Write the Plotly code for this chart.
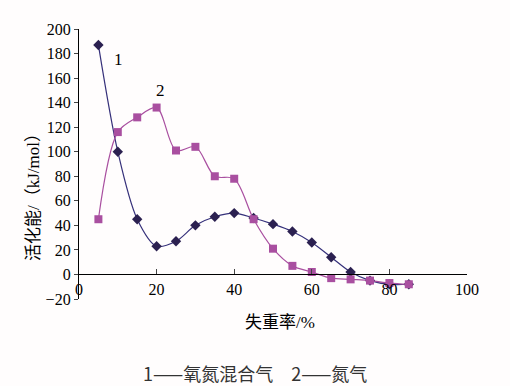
import plotly.graph_objects as go

x_vals = [5, 10, 15, 20, 25, 30, 35, 40, 45, 50, 55, 60, 65, 70, 75, 80, 85]
s1_vals = [187, 100, 45, 23, 27, 40, 47, 50, 46, 41, 35, 26, 14, 2, -5, -8, -8]
s2_vals = [45, 116, 128, 136, 101, 104, 80, 78, 45, 21, 7, 2, -3, -4, -5, -7, -8]
y_ticks = list(range(-20, 201, 20))
x_ticks = list(range(0, 101, 20))

serif = "Liberation Serif"
cjk = "Noto Sans CJK SC"

fig = go.Figure()
fig.add_trace(go.Scatter(
    x=x_vals, y=s1_vals, mode="lines+markers", name="1",
    line=dict(color="#35307a", width=1.2, shape="spline", smoothing=0.9),
    marker=dict(symbol="diamond", size=8, color="#2b2050"),
))
fig.add_trace(go.Scatter(
    x=x_vals, y=s2_vals, mode="lines+markers", name="2",
    line=dict(color="#a94fa0", width=1.2, shape="spline", smoothing=0.9),
    marker=dict(symbol="square", size=8, color="#a94fa0"),
))

ymin, ymax = -20, 200
fig.update_layout(
    width=510, height=386,
    margin=dict(l=79, r=43, t=29, b=87),
    paper_bgcolor="#fffdfd", plot_bgcolor="#fffdfd",
    showlegend=False,
    xaxis=dict(
        range=[0, 100], tickvals=x_ticks, ticks="inside", ticklen=5,
        showline=True, linecolor="black", linewidth=1.3,
        showgrid=False, zeroline=False,
        anchor="free", position=(0 - ymin) / (ymax - ymin),
        tickfont=dict(family=serif, size=16, color="black"),
    ),
    yaxis=dict(
        range=[ymin, ymax], tickvals=y_ticks, ticks="outside", ticklen=4,
        showline=True, linecolor="black", linewidth=1.3,
        showgrid=False, zeroline=False,
        tickfont=dict(family=serif, size=16, color="black"),
    ),
)

fig.add_annotation(x=10.2, y=175, text="1", showarrow=False,
                   font=dict(family=serif, size=17, color="black"))
fig.add_annotation(x=21, y=150, text="2", showarrow=False,
                   font=dict(family=serif, size=17, color="black"))
fig.add_annotation(xref="paper", yref="paper", x=(280 - 79) / 388, y=(386 - 87 - 322) / 270,
                   text="失重率/%", showarrow=False, xanchor="center", yanchor="middle",
                   font=dict(family=serif + ", " + cjk, size=17, color="black"))
fig.add_annotation(xref="paper", yref="paper", x=(33 - 79) / 388, y=(299 - 193) / 270,
                   text="活化能/（kJ/mol）", showarrow=False, textangle=-90,
                   xanchor="center", yanchor="middle",
                   font=dict(family=serif + ", " + cjk, size=17, color="black"))
fig.add_annotation(xref="paper", yref="paper", x=(255 - 79) / 388, y=(299 - 373) / 270,
                   text="1——氧氮混合气　2——氮气", showarrow=False,
                   xanchor="center", yanchor="middle",
                   font=dict(family=cjk, size=18, color="#333333"))

fig.write_html("out.html", config={"displayModeBar": False},
               post_script="document.body.style.margin='0';")
